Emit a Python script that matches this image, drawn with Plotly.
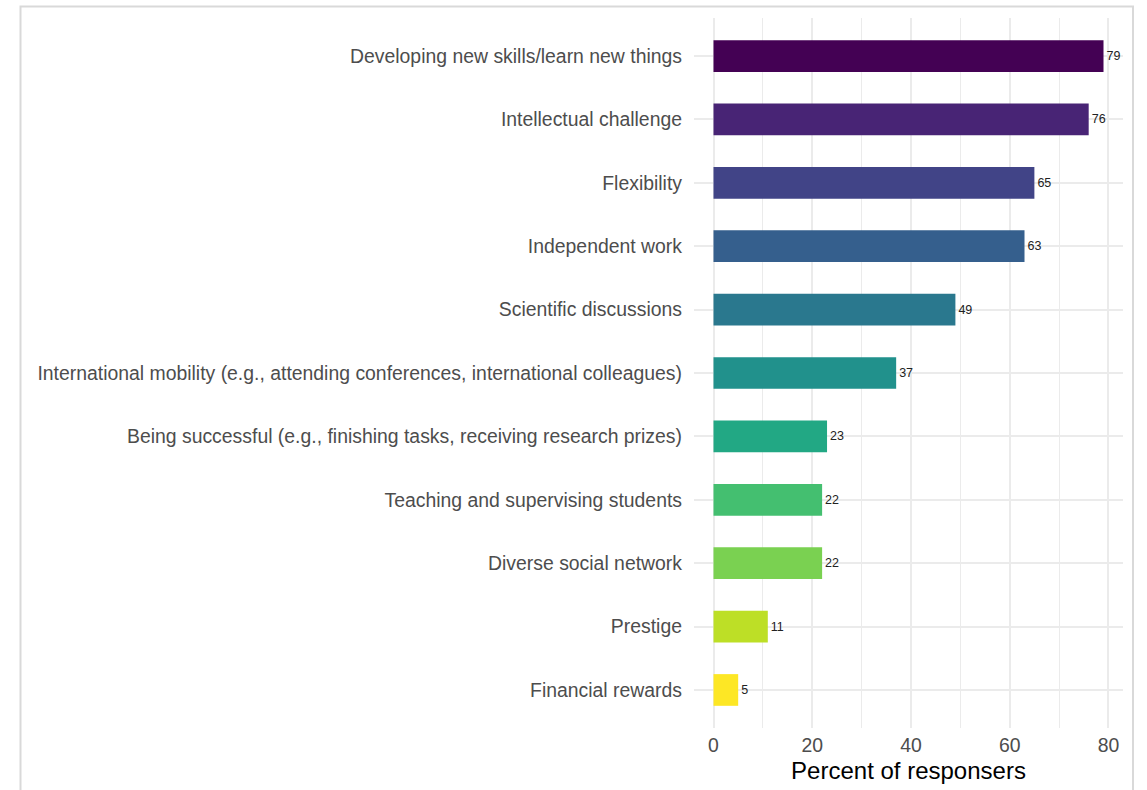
import plotly.graph_objects as go

categories = [
    "Developing new skills/learn new things",
    "Intellectual challenge",
    "Flexibility",
    "Independent work",
    "Scientific discussions",
    "International mobility (e.g., attending conferences, international colleagues)",
    "Being successful (e.g., finishing tasks, receiving research prizes)",
    "Teaching and supervising students",
    "Diverse social network",
    "Prestige",
    "Financial rewards",
]
values = [79, 76, 65, 63, 49, 37, 23, 22, 22, 11, 5]
colors = ["#440154", "#482475", "#414487", "#355F8D", "#2A788E", "#21918C",
          "#22A884", "#44BF70", "#7AD151", "#BDDF26", "#FDE725"]
x_ticks = [0, 20, 40, 60, 80]

fig = go.Figure(go.Bar(
    y=categories, x=values, orientation="h",
    marker=dict(color=colors, line=dict(width=0)),
    width=0.5,
    text=[str(v) for v in values], textposition="outside",
    textfont=dict(size=12.5, color="#222222", family="Liberation Sans, Arial"),
    cliponaxis=False,
))

fig.update_layout(
    width=1147, height=790,
    margin=dict(l=694, r=24, t=18, b=62),
    paper_bgcolor="white", plot_bgcolor="white",
    font=dict(family="Liberation Sans, Arial", color="#4d4d4d"),
    showlegend=False,
    xaxis=dict(
        range=[-3.95, 82.95], tickvals=x_ticks, showgrid=True,
        gridcolor="#ebebeb", gridwidth=1.5, zeroline=False,
        minor=dict(tickvals=[10, 30, 50, 70], showgrid=True, gridcolor="#ebebeb", gridwidth=1),
        tickfont=dict(size=19.4, color="#4d4d4d"), ticklabelstandoff=4,
        title=dict(text="Percent of responsers", font=dict(size=24, color="black"), standoff=6),
        ticks="", showline=False,
    ),
    yaxis=dict(
        categoryorder="array", categoryarray=categories[::-1],
        range=[-0.6, 10.6], showgrid=True, gridcolor="#ebebeb", gridwidth=1.5,
        tickfont=dict(size=19.4, color="#4d4d4d"), ticks="", ticklabelstandoff=11,
        showline=False, zeroline=False,
    ),
    shapes=[dict(type="rect", xref="paper", yref="paper",
                 x0=(20.5 - 694) / 429, x1=(1133 - 694) / 429,
                 y0=-0.2, y1=1 + (18 - 6.5) / 710,
                 line=dict(color="#d9d9d9", width=2), fillcolor="rgba(0,0,0,0)", layer="below")],
)

fig.write_html("out.html", config={"displayModeBar": False},
               post_script="document.body.style.margin='0px';")
